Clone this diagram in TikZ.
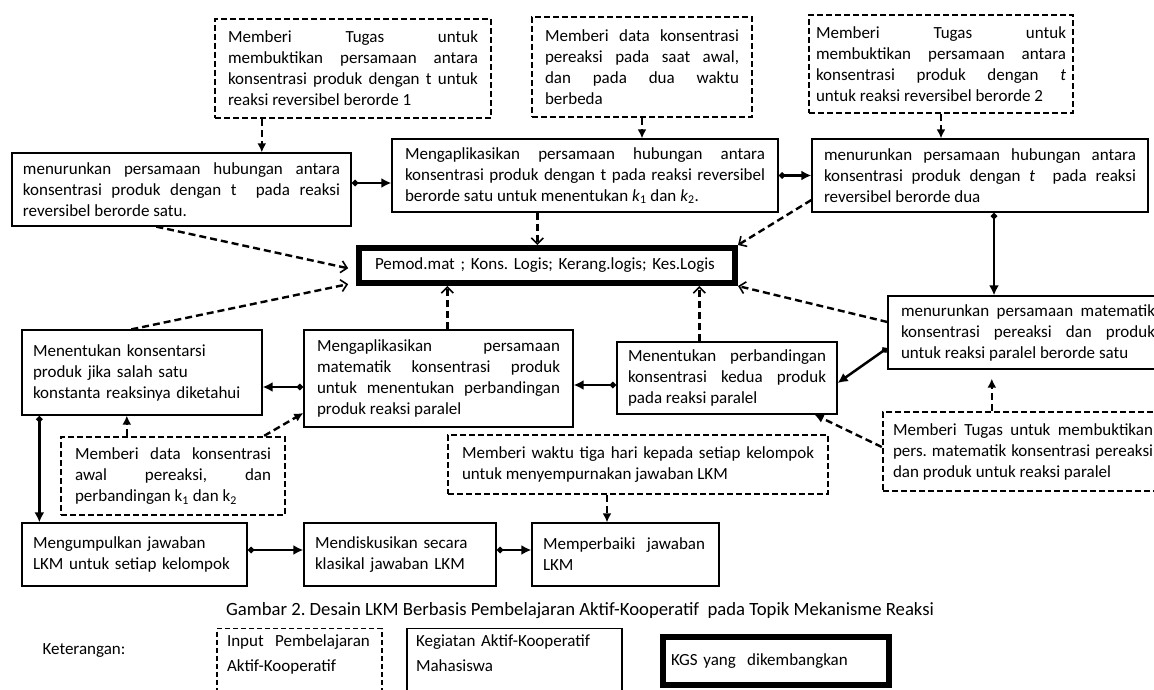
\documentclass[tikz,border=0pt]{standalone}
\usepackage{fontspec}
\setmainfont{Carlito}
\usepackage{xcolor}
\usepackage{tikz}
\usetikzlibrary{positioning, arrows.meta, calc}
\frenchspacing
\hyphenpenalty=10000
\exhyphenpenalty=10000

\begin{document}
\begin{tikzpicture}[
    x=1pt, y=-1pt,
    every node/.style={font=\fontsize{17}{21}\selectfont},
    act/.style={draw, line width=1.3pt, inner ysep=2pt, align=justify},
    inp/.style={draw, line width=2.4pt, dash pattern=on 6pt off 3pt, inner ysep=2pt, align=justify},
    kgs/.style={draw, line width=6pt, inner xsep=16pt, align=left},
    flow/.style={line width=2.5pt, {Diamond[length=7pt,width=7pt]}-{Latex[length=10pt,width=10pt]}},
    feed/.style={line width=2.4pt, dash pattern=on 7pt off 4pt, -{Latex[length=9pt,width=9pt]}},
    goal/.style={line width=2.4pt, dash pattern=on 7pt off 4pt, -{Straight Barb[length=6pt,width=12pt,line width=1.6pt]}}
]

\path[use as bounding box, clip] (0,0) rectangle (1154,690);

% --- 1. Input boxes, top row ---
\node[inp, minimum width=276pt, minimum height=99pt, inner xsep=13pt, text width=250pt] (tugas1) at (353,68.5)
    {Memberi Tugas untuk\linebreak membuktikan persamaan antara\linebreak konsentrasi produk dengan t untuk\linebreak reaksi reversibel berorde 1};
\node[inp, minimum width=220pt, minimum height=100pt, inner xsep=13pt, text width=194pt] (dataAwal) at (642,67)
    {Memberi data konsentrasi\linebreak pereaksi pada saat awal,\linebreak dan pada dua waktu\linebreak berbeda};
\node[inp, minimum width=264pt, minimum height=98pt, inner xsep=7pt, text width=250pt] (tugas2) at (941,64)
    {Memberi Tugas untuk\linebreak membuktikan persamaan antara\linebreak konsentrasi produk dengan \textit{t}\linebreak untuk reaksi reversibel berorde 2};

% --- 2. Activities, reversible reactions ---
\node[act, minimum width=339pt, minimum height=73pt, inner xsep=11pt, text width=317pt] (turun1) at (181.5,189.5)
    {menurunkan persamaan hubungan antara\linebreak konsentrasi produk dengan t \ pada reaksi\linebreak reversibel berorde satu.};
\node[act, minimum width=386pt, minimum height=73pt, inner xsep=13pt, text width=360pt] (aplikasi1) at (585,175.5)
    {Mengaplikasikan persamaan hubungan antara\linebreak konsentrasi produk dengan t pada reaksi reversibel\linebreak berorde satu untuk menentukan \textit{k}\textsubscript{1} dan \textit{k}\textsubscript{2}.};
\node[act, minimum width=336pt, minimum height=73pt, inner xsep=12pt, text width=312pt] (turun2) at (980,175.5)
    {menurunkan persamaan hubungan antara\linebreak konsentrasi produk dengan \textit{t} \ pada reaksi\linebreak reversibel berorde dua};

% --- 3. KGS ---
\node[kgs, minimum width=376pt, minimum height=35pt, text width=344pt] (kgsMain) at (547,265.5)
    {Pemod.mat ; Kons. Logis; Kerang.logis; Kes.Logis};

% --- 4. Activities, parallel reactions ---
\node[act, align=left, minimum width=240pt, minimum height=85pt, inner xsep=11pt, text width=218pt] (tentuKons) at (142,372.5)
    {Menentukan konsentarsi\\produk jika salah satu\\konstanta reaksinya diketahui};
\node[act, minimum width=269pt, minimum height=97pt, inner xsep=13pt, text width=243pt] (aplikasi2) at (438.5,378.5)
    {Mengaplikasikan persamaan\linebreak matematik konsentrasi produk\linebreak untuk menentukan perbandingan\linebreak produk reaksi paralel};
\node[act, minimum width=220pt, minimum height=72pt, inner xsep=11pt, text width=198pt] (banding) at (727,378)
    {Menentukan perbandingan\linebreak konsentrasi kedua produk\linebreak pada reaksi paralel};
\node[act, minimum width=280pt, minimum height=73pt, inner xsep=13pt, text width=254pt] (turunPar) at (1028,332.5)
    {menurunkan persamaan matematik\linebreak konsentrasi pereaksi dan produk\linebreak untuk reaksi paralel berorde satu};

% --- 5. Input boxes, lower part ---
\node[inp, minimum width=280pt, minimum height=79pt, inner xsep=10pt, text width=260pt] (tugasPar) at (1023,451.5)
    {Memberi Tugas untuk membuktikan\linebreak pers. matematik konsentrasi pereaksi\linebreak dan produk untuk reaksi paralel};
\node[inp, minimum width=224pt, minimum height=78pt, inner xsep=14pt, text width=196pt] (dataK) at (173,476)
    {Memberi data konsentrasi\linebreak awal pereaksi, dan\linebreak perbandingan k\textsubscript{1} dan k\textsubscript{2}};
\node[inp, minimum width=380pt, minimum height=59pt, inner xsep=14pt, text width=352pt] (waktu) at (638,464.5)
    {Memberi waktu tiga hari kepada setiap kelompok\linebreak untuk menyempurnakan jawaban LKM};

% --- 6. Bottom row ---
\node[act, align=left, minimum width=225pt, minimum height=63pt, inner xsep=11pt, text width=203pt] (kumpul) at (134.5,554.5)
    {Mengumpulkan jawaban\\LKM untuk setiap kelompok};
\node[act, align=left, minimum width=192pt, minimum height=63pt, inner xsep=11pt, text width=170pt] (diskusi) at (400,554.5)
    {Mendiskusikan secara\\klasikal jawaban LKM};
\node[act, align=left, minimum width=187pt, minimum height=63pt, inner xsep=11pt, text width=165pt] (perbaiki) at (625.5,554.5)
    {Memperbaiki \ jawaban\\LKM};

% --- 7. Caption and legend ---
\node[font=\fontsize{18.7}{22}\selectfont] (caption) at (580,611) {Gambar 2. Desain LKM Berbasis Pembelajaran Aktif-Kooperatif \ pada Topik Mekanisme Reaksi};
\node (keterangan) at (84,651) {Keterangan:};
\node[draw, line width=1.4pt, dash pattern=on 5pt off 3pt, align=left, font=\fontsize{17}{25}\selectfont,
      minimum width=165pt, minimum height=75pt, inner xsep=10pt, text width=145pt] (legInput) at (299.5,666)
    {Input \ Pembelajaran\\Aktif-Kooperatif\\\mbox{}};
\node[draw, line width=1.4pt, align=left, font=\fontsize{17}{25}\selectfont,
      minimum width=215pt, minimum height=75pt, inner xsep=9pt, text width=197pt] (legAct) at (514.5,666)
    {Kegiatan Aktif-Kooperatif\\Mahasiswa\\\mbox{}};
\node[kgs, inner xsep=8pt, minimum width=226pt, minimum height=48pt, text width=210pt] (legKgs) at (776,661)
    {KGS yang \ dikembangkan};

% --- 8. Solid flow between activities ---
\draw[flow] ([yshift=6.5pt]turun1.east) -- ([yshift=6.5pt]turun1.east -| aplikasi1.west);
\draw[flow] (aplikasi1.east) -- (turun2.west);
\draw[flow] ([xshift=14pt]turun2.south) -- ([xshift=14pt]turun2.south |- turunPar.north);
\draw[flow] ([yshift=-15.5pt]turunPar.west) -- ([yshift=-5pt]banding.east);
\draw[flow] ([yshift=-7pt]banding.west) -- ([yshift=-7pt]banding.west -| aplikasi2.east);
\draw[flow] ([yshift=-8.5pt]aplikasi2.west) -- ([yshift=-8.5pt]aplikasi2.west -| tentuKons.east);
\draw[flow] ([xshift=18pt]tentuKons.south west) -- ([xshift=18pt]kumpul.north west);
\draw[flow] ([yshift=4.5pt]kumpul.east) -- ([yshift=4.5pt]kumpul.east -| diskusi.west);
\draw[flow] ([yshift=4.5pt]diskusi.east) -- ([yshift=4.5pt]diskusi.east -| perbaiki.west);

% --- 9. Inputs into activities ---
\coordinate (wq) at ($(perbaiki.north)+(-18.5,0)$);
\draw[feed] ([xshift=48pt]tugas1.south west) -- ([xshift=48pt]tugas1.south west |- turun1.north);
\draw[feed] (dataAwal.south) -- (dataAwal.south |- aplikasi1.north);
\draw[feed] (tugas2.south) -- (tugas2.south |- turun2.north);
\draw[feed] ([xshift=67pt]dataK.north west) -- ([xshift=67pt]dataK.north west |- tentuKons.south);
\draw[feed] ([xshift=-22pt]dataK.north east) -- ([yshift=-34.5pt]aplikasi2.west);
\draw[feed] (wq |- waktu.south) -- (wq);
\draw[feed] ([yshift=4.5pt]tugasPar.west) -- ([xshift=-23pt]banding.south east);
\draw[feed, shorten >=9pt] ([xshift=110pt]tugasPar.north west) -- ([xshift=110pt]tugasPar.north west |- turunPar.south);

% --- 10. Activities towards the KGS ---
\draw[goal, shorten >=8pt] ([xshift=145pt]turun1.south west) -- ([yshift=-4.5pt]kgsMain.west);
\draw[goal, shorten >=8pt] ([xshift=110pt]tentuKons.north west) -- ([yshift=-17pt]kgsMain.west);
\draw[goal] ([xshift=146pt]aplikasi1.south west) -- ([xshift=146pt]aplikasi1.south west |- kgsMain.north);
\draw[goal] ([yshift=-24.5pt]turun2.west) -- (kgsMain.north east);
\draw[goal] ([yshift=10.5pt]turunPar.west) -- (kgsMain.south east);
\draw[goal] ([xshift=144pt]aplikasi2.north west) -- ([xshift=144pt]aplikasi2.north west |- kgsMain.south);
\draw[goal] ([xshift=83pt]banding.north west) -- ([xshift=83pt]banding.north west |- kgsMain.south);

\end{tikzpicture}
\end{document}
